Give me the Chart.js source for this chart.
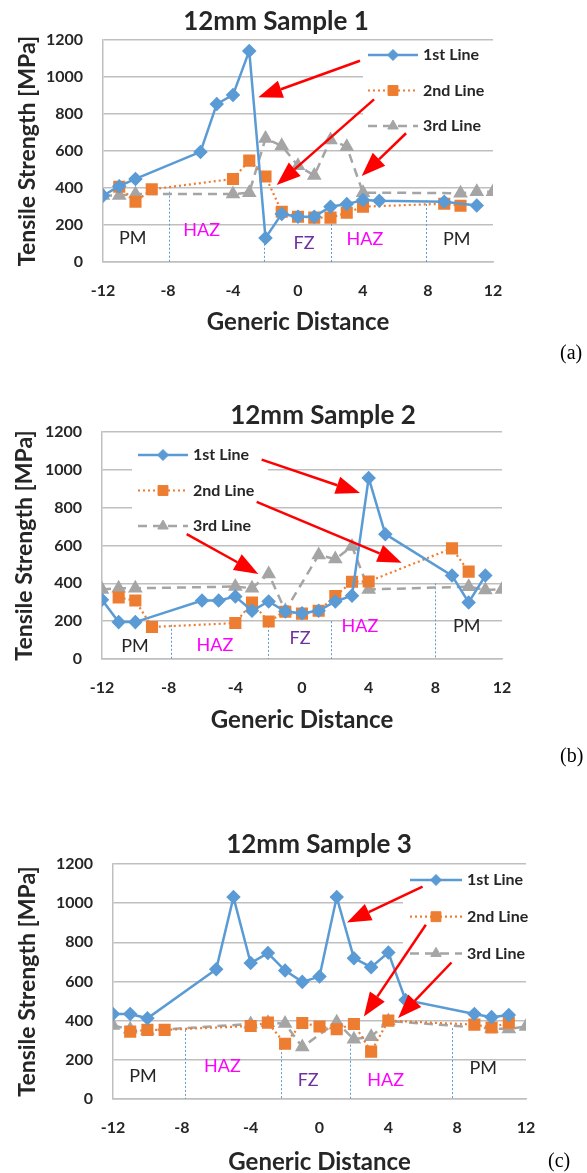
<!DOCTYPE html>
<html>
<head>
<meta charset="utf-8">
<script src="https://cdn.jsdelivr.net/npm/chart.js@4.4.1/dist/chart.umd.min.js"></script>
<style>
  html, body { margin: 0; padding: 0; background: #fff; overflow: hidden; width: 587px; height: 1173px; }
  canvas { position: absolute; left: 0; }
  .tag { position: absolute; font-family: "Liberation Serif", "DejaVu Serif", serif; font-size: 20px; color: #000; }
</style>
</head>
<body>
<canvas id="c1" width="587" height="345" style="top:0px"></canvas>
<canvas id="c2" width="587" height="382" style="top:360px"></canvas>
<canvas id="c3" width="587" height="412" style="top:770px"></canvas>
<div class="tag" style="left:560px;top:341px">(a)</div>
<div class="tag" style="left:560px;top:744px">(b)</div>
<div class="tag" style="left:548px;top:1149px">(c)</div>
<script>
// axis ticks
const xTicks = [-12, -8, -4, 0, 4, 8, 12];
const yTicks = [0, 200, 400, 600, 800, 1000, 1200];
const seriesNames = ['1st Line', '2nd Line', '3rd Line'];
const zoneNames = ['PM', 'HAZ', 'FZ', 'HAZ', 'PM'];

// Sample 1
const s1_x1 = [-12, -11, -10, -6, -5, -4, -3, -2, -1, 0, 1, 2, 3, 4, 5, 9, 11];
const s1_y1 = [358, 410, 449, 595, 854, 903, 1141, 130, 260, 245, 245, 299, 313, 335, 331, 326, 305];
const s1_x2 = [-11, -10, -9, -4, -3, -2, -1, 0, 1, 2, 3, 4, 9, 10];
const s1_y2 = [407, 326, 393, 449, 548, 462, 272, 245, 240, 240, 266, 299, 315, 304];
const s1_x3 = [-12, -11, -10, -4, -3, -2, -1, 0, 1, 2, 3, 4, 10, 11, 12];
const s1_y3 = [360, 360, 367, 367, 375, 668, 628, 520, 468, 660, 623, 375, 372, 380, 380];

// Sample 2
const s2_x1 = [-12, -11, -10, -6, -5, -4, -3, -2, -1, 0, 1, 2, 3, 4, 5, 9, 10, 11];
const s2_y1 = [313, 195, 195, 309, 309, 330, 255, 304, 251, 242, 255, 304, 335, 957, 660, 441, 299, 441];
const s2_x2 = [-11, -10, -9, -4, -3, -2, -1, 0, 1, 2, 3, 4, 9, 10];
const s2_y2 = [325, 309, 169, 190, 298, 198, 250, 240, 255, 333, 408, 410, 585, 462];
const s2_x3 = [-12, -11, -10, -4, -3, -2, -1, 1, 2, 3, 4, 10, 11, 12];
const s2_y3 = [368, 374, 374, 383, 374, 450, 255, 550, 528, 595, 368, 382, 365, 368];

// Sample 3
const s3_x1 = [-12, -11, -10, -6, -5, -4, -3, -2, -1, 0, 1, 2, 3, 4, 5, 9, 10, 11];
const s3_y1 = [434, 434, 412, 663, 1031, 694, 745, 656, 598, 625, 1031, 719, 673, 748, 506, 434, 418, 429];
const s3_x2 = [-11, -10, -9, -4, -3, -2, -1, 0, 1, 2, 3, 4, 9, 10, 11];
const s3_y2 = [344, 353, 353, 373, 390, 282, 388, 370, 356, 383, 242, 400, 380, 365, 390];
const s3_x3 = [-12, -11, -10, -4, -3, -2, -1, 1, 2, 3, 4, 10, 11, 12];
const s3_y3 = [375, 356, 350, 383, 390, 385, 265, 392, 305, 318, 398, 360, 358, 370];

// zone boundaries and labels (data units)
const s1_zoneX = [-7.92, -2.1, 2.05, 7.9];
const s1_zoneTop = [380, 120, 227, 335];
const s1_labelX = [-10.17, -5.93, 0.37, 4.12, 9.77];
const s1_labelY = [128, 173, 104, 123, 123];
const s2_zoneX = [-7.86, -2.04, 1.74, 7.98];
const s2_zoneTop = [181, 175, 200, 400];
const s2_labelX = [-10.02, -5.22, -0.12, 3.48, 9.88];
const s2_labelY = [66, 75, 111, 172, 172];
const s3_zoneX = [-7.8, -2.25, 1.76, 7.7];
const s3_zoneTop = [353, 280, 318, 362];
const s3_labelX = [-10.26, -5.64, -0.66, 3.85, 9.51];
const s3_labelY = [118, 169, 97, 97, 158];

// red arrows: [fromX, fromY, tipX, tipY] in data units
const s1_arrows = [[3.815, 1088, -2.44, 890], [4.68, 879, -1.31, 416], [6.65, 696, 3.92, 465]];
const s2_arrows = [[-2.42, 1054, 3.48, 878], [-2.72, 831, 5.98, 509], [-6.92, 660, -2.62, 450]];
const s3_arrows = [[5.99, 1085, 1.6, 901], [6.18, 890, 2.58, 421], [7.67, 697, 4.57, 413]];

const FONT = 'Lato, "Noto Sans", sans-serif';
const TXT = '#262626';
const zoneColors = { PM: '#262626', HAZ: '#FF00FF', FZ: '#7030A0' };

function pts(xs, ys) {
  return xs.map((v, i) => ({ x: v, y: ys[i] }));
}

// extra drawing: zone lines, legend, labels, arrows, title
const decor = {
  id: 'decor',
  beforeDatasetsDraw(chart, args, o) {
    const { ctx, scales: { x, y } } = chart;
    ctx.save();
    ctx.strokeStyle = '#5B9BD5';
    ctx.lineWidth = 1;
    ctx.setLineDash([2, 2]);
    o.zoneX.forEach((v, i) => {
      const px = Math.round(x.getPixelForValue(v)) + 0.5;
      ctx.beginPath();
      ctx.moveTo(px, y.getPixelForValue(o.zoneTop[i]));
      ctx.lineTo(px, y.getPixelForValue(0));
      ctx.stroke();
    });
    ctx.setLineDash([]);

    const L = o.legend;
    ctx.fillStyle = '#fff';
    ctx.fillRect(L.box[0], L.box[1], L.box[2], L.box[3]);
    chart.data.datasets.forEach((ds, i) => {
      const yy = L.y + i * L.gap;
      ctx.strokeStyle = ds.borderColor;
      ctx.lineWidth = ds.borderWidth;
      ctx.lineCap = ds.borderCapStyle || 'butt';
      ctx.setLineDash(ds.borderDash || []);
      ctx.beginPath();
      ctx.moveTo(L.x, yy);
      ctx.lineTo(L.x + L.len, yy);
      ctx.stroke();
      ctx.setLineDash([]);
      ctx.fillStyle = ds.pointBackgroundColor;
      ctx.strokeStyle = ds.pointBorderColor;
      ctx.lineWidth = 1;
      Chart.helpers.drawPoint(ctx, { pointStyle: ds.pointStyle, radius: ds.pointRadius, rotation: 0, borderWidth: 1 }, L.x + L.len / 2, yy);
      ctx.fillStyle = TXT;
      ctx.font = 'bold 16px ' + FONT;
      ctx.textAlign = 'left';
      ctx.textBaseline = 'middle';
      ctx.fillText(ds.label, L.x + L.len + 5, yy);
    });
    ctx.restore();
  },
  afterDatasetsDraw(chart, args, o) {
    const { ctx, scales: { x, y } } = chart;
    ctx.save();
    ctx.font = '18px ' + FONT;
    ctx.textAlign = 'center';
    ctx.textBaseline = 'middle';
    zoneNames.forEach((name, i) => {
      ctx.fillStyle = zoneColors[name];
      ctx.fillText(name, x.getPixelForValue(o.labelX[i]), y.getPixelForValue(o.labelY[i]));
    });

    ctx.strokeStyle = '#FF0000';
    ctx.fillStyle = '#FF0000';
    ctx.lineWidth = 2.5;
    o.arrows.forEach(a => {
      const x0 = x.getPixelForValue(a[0]), y0 = y.getPixelForValue(a[1]);
      const x1 = x.getPixelForValue(a[2]), y1 = y.getPixelForValue(a[3]);
      const ang = Math.atan2(y1 - y0, x1 - x0);
      const hl = 24, hw = 9;
      const bx = x1 - hl * Math.cos(ang), by = y1 - hl * Math.sin(ang);
      ctx.beginPath();
      ctx.moveTo(x0, y0);
      ctx.lineTo(bx, by);
      ctx.stroke();
      ctx.beginPath();
      ctx.moveTo(x1, y1);
      ctx.lineTo(bx + hw * Math.sin(ang), by - hw * Math.cos(ang));
      ctx.lineTo(bx - hw * Math.sin(ang), by + hw * Math.cos(ang));
      ctx.closePath();
      ctx.fill();
    });

    ctx.fillStyle = TXT;
    ctx.font = 'bold 26px ' + FONT;
    ctx.fillText(o.title, o.titleX, o.titleY);
    ctx.restore();
  }
};

// Function to create one tensile strength chart
function strength_chart(canvas, s, lay) {
  const data = {
    datasets: [
      {
        label: seriesNames[0], data: pts(s.x1, s.y1),
        borderColor: '#5B9BD5', backgroundColor: '#5B9BD5',
        pointBackgroundColor: '#5B9BD5', pointBorderColor: '#5B9BD5',
        borderWidth: 2.5, pointStyle: 'rectRot', pointRadius: 5.5
      },
      {
        label: seriesNames[1], data: pts(s.x2, s.y2),
        borderColor: '#ED7D31', backgroundColor: '#ED7D31',
        pointBackgroundColor: '#ED7D31', pointBorderColor: '#ED7D31',
        borderWidth: 2.2, borderDash: [2, 3], pointStyle: 'rect', pointRadius: 7
      },
      {
        label: seriesNames[2], data: pts(s.x3, s.y3),
        borderColor: '#A5A5A5', backgroundColor: '#A5A5A5',
        pointBackgroundColor: '#A5A5A5', pointBorderColor: '#A5A5A5',
        borderWidth: 2.5, borderDash: [9, 6], pointStyle: 'triangle', pointRadius: 6
      }
    ]
  };

  const config = {
    type: 'line',
    data: data,
    options: {
      responsive: false,
      animation: false,
      layout: { padding: { top: lay.top, right: lay.right, bottom: 0, left: 0 } },
      plugins: {
        legend: { display: false },
        tooltip: { enabled: false },
        decor: s.decor
      },
      scales: {
        x: {
          type: 'linear', min: -12, max: 12,
          afterBuildTicks: sc => { sc.ticks = xTicks.map(v => ({ value: v })); },
          afterFit: sc => { sc.height = 83; },
          grid: { display: false },
          border: { display: true, color: '#BFBFBF', width: 1.5 },
          ticks: { color: TXT, padding: 11, font: { family: FONT, size: 16, weight: 'bold' }, maxRotation: 0, callback: v => String(v) },
          title: { display: true, text: 'Generic Distance', color: TXT, font: { family: FONT, size: 24, weight: 'bold' }, padding: { top: 0, bottom: lay.xTitlePad } }
        },
        y: {
          min: 0, max: 1200,
          afterBuildTicks: sc => { sc.ticks = yTicks.map(v => ({ value: v })); },
          afterFit: sc => { sc.width = lay.left; },
          grid: { color: '#BFBFBF', lineWidth: 1.5, drawTicks: false },
          border: { display: true, color: '#BFBFBF', width: 1.5 },
          ticks: { color: TXT, padding: 20, font: { family: FONT, size: 16, weight: 'bold' }, callback: v => String(v) },
          title: { display: true, text: 'Tensile Strength [MPa]', color: TXT, font: { family: FONT, size: 23, weight: 'bold' }, padding: { top: lay.yTitlePad, bottom: 0 } }
        }
      }
    },
    plugins: [decor]
  };

  new Chart(document.getElementById(canvas), config);
}

strength_chart('c1', {
  x1: s1_x1, y1: s1_y1, x2: s1_x2, y2: s1_y2, x3: s1_x3, y3: s1_y3,
  decor: {
    title: '12mm Sample 1', titleX: 276, titleY: 22,
    zoneX: s1_zoneX, zoneTop: s1_zoneTop, labelX: s1_labelX, labelY: s1_labelY, arrows: s1_arrows,
    legend: { x: 368, y: 55, gap: 35.5, len: 50, box: [363, 43, 130, 102] }
  }
}, { top: 40, right: 94, left: 103, xTitlePad: 8, yTitlePad: 14 });

strength_chart('c2', {
  x1: s2_x1, y1: s2_y1, x2: s2_x2, y2: s2_y2, x3: s2_x3, y3: s2_y3,
  decor: {
    title: '12mm Sample 2', titleX: 323, titleY: 56,
    zoneX: s2_zoneX, zoneTop: s2_zoneTop, labelX: s2_labelX, labelY: s2_labelY, arrows: s2_arrows,
    legend: { x: 138, y: 95, gap: 35.5, len: 50, box: [132, 78, 136, 102] }
  }
}, { top: 72, right: 85, left: 102, xTitlePad: 7, yTitlePad: 11 });

strength_chart('c3', {
  x1: s3_x1, y1: s3_y1, x2: s3_x2, y2: s3_y2, x3: s3_x3, y3: s3_y3,
  decor: {
    title: '12mm Sample 3', titleX: 319, titleY: 75,
    zoneX: s3_zoneX, zoneTop: s3_zoneTop, labelX: s3_labelX, labelY: s3_labelY, arrows: s3_arrows,
    legend: { x: 410, y: 110, gap: 36.7, len: 52, box: [403, 98, 123, 104] }
  }
}, { top: 94, right: 61, left: 113, xTitlePad: 5, yTitlePad: 14 });
</script>
</body>
</html>
